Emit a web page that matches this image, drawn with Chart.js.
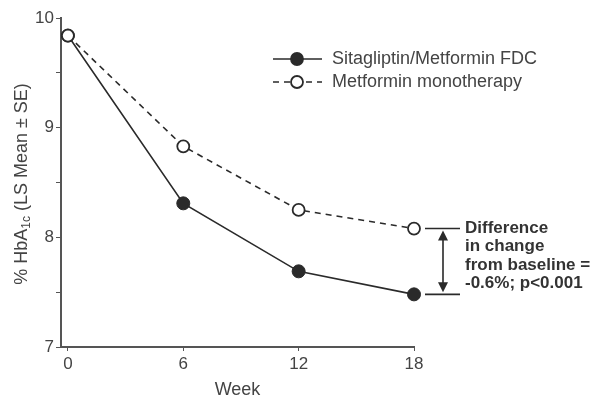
<!DOCTYPE html>
<html>
<head>
<meta charset="utf-8">
<script src="https://cdn.jsdelivr.net/npm/chart.js@4/dist/chart.umd.min.js"></script>
<style>
  html, body { margin: 0; padding: 0; background: #fff; }
  #wrap { width: 599px; height: 401px; position: relative; }
</style>
</head>
<body>
<div id="wrap"><canvas id="myChart"></canvas></div>
<script>
// data
const weeks = [0, 6, 12, 18];
const sitaMet = [9.84, 8.31, 7.69, 7.48];
const metMono = [9.84, 8.83, 8.25, 8.08];
const seriesNames = ['Sitagliptin/Metformin FDC', 'Metformin monotherapy'];
const xTicks = [0, 6, 12, 18];
const yTicks = [7, 7.5, 8, 8.5, 9, 9.5, 10];
const noteLines = ['Difference', 'in change', 'from baseline =', '-0.6%; p<0.001'];

const ink = '#2a2a2a';
const textCol = '#444';
const fam = '"Liberation Sans", Arial, sans-serif';

// legend, y title and the difference bracket
const extras = {
  id: 'extras',
  afterDraw(chart) {
    const ctx = chart.ctx;
    const xs = chart.scales.x, ys = chart.scales.y;
    ctx.save();

    // legend
    const rows = [
      { y: 59, dash: [], fill: ink, label: seriesNames[0] },
      { y: 82, dash: [6, 5], fill: '#fff', label: seriesNames[1] }
    ];
    rows.forEach(r => {
      ctx.strokeStyle = ink;
      ctx.lineWidth = 1.6;
      ctx.setLineDash(r.dash);
      ctx.beginPath();
      ctx.moveTo(273, r.y); ctx.lineTo(322, r.y);
      ctx.stroke();
      ctx.setLineDash([]);
      ctx.beginPath();
      ctx.arc(297, r.y, 6, 0, Math.PI * 2);
      ctx.fillStyle = r.fill;
      ctx.fill();
      ctx.lineWidth = 1.8;
      ctx.stroke();
      ctx.fillStyle = textCol;
      ctx.font = '18px ' + fam;
      ctx.textBaseline = 'middle';
      ctx.textAlign = 'left';
      ctx.fillText(r.label, 332, r.y);
    });

    // y axis title with subscript
    ctx.translate(22, 184);
    ctx.rotate(-Math.PI / 2);
    const big = '18px ' + fam;
    const small = '12px ' + fam;
    const p1 = '% HbA', p2 = '1c', p3 = ' (LS Mean \u00b1 SE)';
    ctx.font = big;
    const w1 = ctx.measureText(p1).width, w3 = ctx.measureText(p3).width;
    ctx.font = small;
    const w2 = ctx.measureText(p2).width;
    let x0 = -(w1 + w2 + w3) / 2;
    ctx.fillStyle = textCol;
    ctx.textAlign = 'left';
    ctx.textBaseline = 'middle';
    ctx.font = big;
    ctx.fillText(p1, x0, 0);
    ctx.font = small;
    ctx.fillText(p2, x0 + w1, 5);
    ctx.font = big;
    ctx.fillText(p3, x0 + w1 + w2, 0);
    ctx.setTransform(1, 0, 0, 1, 0, 0);

    // bracket between the week-18 values
    const last = weeks.length - 1;
    const yTop = ys.getPixelForValue(metMono[last]);
    const yBot = ys.getPixelForValue(sitaMet[last]);
    const px = xs.getPixelForValue(weeks[last]);
    const bx0 = px + 11, bx1 = px + 46, ax = px + 29;
    ctx.strokeStyle = ink;
    ctx.fillStyle = ink;
    ctx.lineWidth = 1.6;
    ctx.beginPath();
    ctx.moveTo(bx0, yTop); ctx.lineTo(bx1, yTop);
    ctx.moveTo(bx0, yBot); ctx.lineTo(bx1, yBot);
    ctx.moveTo(ax, yTop + 8); ctx.lineTo(ax, yBot - 8);
    ctx.stroke();
    ctx.beginPath();
    ctx.moveTo(ax, yTop + 2); ctx.lineTo(ax - 5, yTop + 12); ctx.lineTo(ax + 5, yTop + 12);
    ctx.closePath(); ctx.fill();
    ctx.beginPath();
    ctx.moveTo(ax, yBot - 2); ctx.lineTo(ax - 5, yBot - 12); ctx.lineTo(ax + 5, yBot - 12);
    ctx.closePath(); ctx.fill();

    ctx.font = 'bold 17px ' + fam;
    ctx.fillStyle = '#333';
    ctx.textAlign = 'left';
    ctx.textBaseline = 'middle';
    noteLines.forEach((t, i) => ctx.fillText(t, px + 51, 228 + i * 18.5));
    ctx.restore();
  }
};

const ctx = document.getElementById('myChart').getContext('2d');
const chart = new Chart(ctx, {
  type: 'line',
  data: {
    datasets: [
      {
        label: seriesNames[1],
        data: weeks.map((w, i) => ({ x: w, y: metMono[i] })),
        borderColor: ink,
        borderWidth: 1.6,
        borderDash: [6, 5],
        pointRadius: 6,
        pointBorderWidth: 1.8,
        pointBackgroundColor: '#fff',
        pointBorderColor: ink
      },
      {
        label: seriesNames[0],
        data: weeks.map((w, i) => ({ x: w, y: sitaMet[i] })),
        borderColor: ink,
        borderWidth: 1.6,
        pointRadius: 6.5,
        pointBorderWidth: 1,
        pointBackgroundColor: ink,
        pointBorderColor: ink
      }
    ]
  },
  options: {
    responsive: true,
    maintainAspectRatio: false,
    animation: false,
    clip: false,
    layout: { padding: { left: 0, top: 18, right: 185, bottom: 0 } },
    plugins: { legend: { display: false }, tooltip: { enabled: false } },
    scales: {
      x: {
        type: 'linear',
        min: -0.36,
        max: 18,
        afterBuildTicks: s => { s.ticks = xTicks.map(v => ({ value: v })); },
        afterFit: s => { s.height = 54; },
        border: { color: '#555', width: 2 },
        grid: { drawOnChartArea: false, drawTicks: true, tickLength: 4, color: '#555' },
        ticks: {
          color: textCol, padding: 3,
          font: { family: fam, size: 17 }
        },
        title: {
          display: true, text: 'Week', color: textCol, padding: { top: 10, bottom: 0 },
          font: { family: fam, size: 18 }
        }
      },
      y: {
        min: 7,
        max: 10,
        afterBuildTicks: s => { s.ticks = yTicks.map(v => ({ value: v })); },
        afterFit: s => { s.width = 61; },
        border: { color: '#555', width: 2 },
        grid: { drawOnChartArea: false, drawTicks: true, tickLength: 5, color: '#555' },
        ticks: {
          color: textCol, padding: 2,
          callback: v => Number.isInteger(v) ? String(v) : '',
          font: { family: fam, size: 17 }
        }
      }
    }
  },
  plugins: [extras]
});
</script>
</body>
</html>
